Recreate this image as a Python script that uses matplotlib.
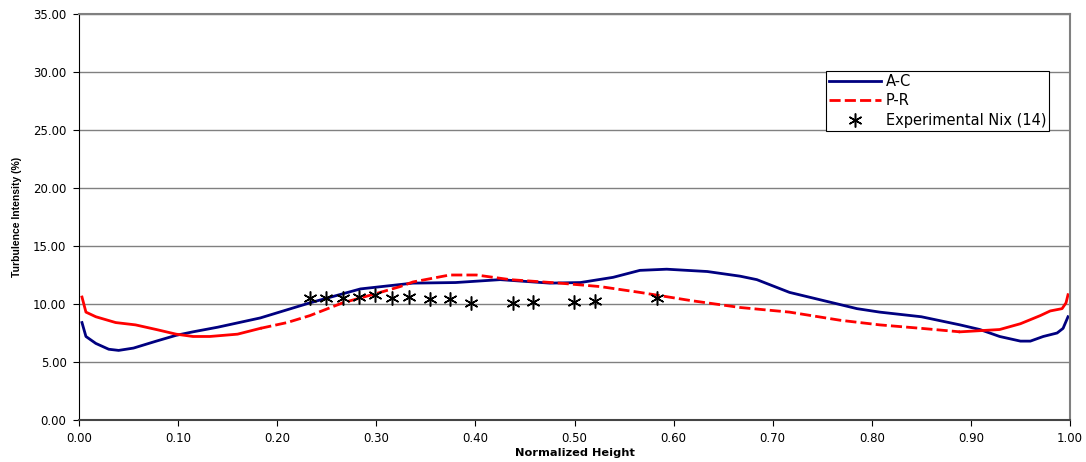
import matplotlib
matplotlib.use("Agg")
import matplotlib.pyplot as plt
from matplotlib.ticker import FormatStrFormatter

plt.rcParams['font.family'] = ['DejaVu Sans']

# A-C model curve
ac_x = [0.003, 0.007, 0.017, 0.030, 0.040, 0.055, 0.078, 0.098, 0.115, 0.14, 0.183, 0.233,
        0.284, 0.337, 0.38, 0.425, 0.475, 0.506, 0.539, 0.566, 0.593, 0.634, 0.667, 0.684,
        0.717, 0.751, 0.785, 0.808, 0.85, 0.889, 0.909, 0.929, 0.950, 0.960, 0.973, 0.987,
        0.993, 0.998]
ac_y = [8.4, 7.2, 6.6, 6.1, 6.0, 6.2, 6.8, 7.3, 7.6, 8.0, 8.8, 10.1,
        11.3, 11.8, 11.85, 12.1, 11.8, 11.85, 12.3, 12.9, 13.0, 12.8, 12.4, 12.1,
        11.0, 10.3, 9.6, 9.3, 8.9, 8.2, 7.8, 7.2, 6.8, 6.8, 7.2, 7.5,
        7.9, 8.9]

# P-R model curve
pr_x = [0.003, 0.007, 0.017, 0.037, 0.057, 0.078, 0.098, 0.115, 0.132, 0.16, 0.183, 0.21,
        0.233, 0.266, 0.30, 0.324, 0.337, 0.374, 0.401, 0.435, 0.485, 0.526, 0.566, 0.617,
        0.667, 0.717, 0.768, 0.808, 0.85, 0.889, 0.929, 0.950, 0.970, 0.980, 0.992, 0.996,
        0.998]
pr_y = [10.6, 9.3, 8.9, 8.4, 8.2, 7.8, 7.4, 7.2, 7.2, 7.4, 7.9, 8.4,
        9.0, 10.1, 10.9, 11.5, 11.9, 12.5, 12.5, 12.1, 11.8, 11.5, 11.0, 10.3,
        9.7, 9.3, 8.6, 8.2, 7.9, 7.6, 7.8, 8.3, 9.0, 9.4, 9.6, 10.1,
        10.8]

# Experimental Nix (14)
exp_x = [0.233, 0.249, 0.266, 0.283, 0.299, 0.316, 0.333, 0.354, 0.374, 0.396,
         0.438, 0.458, 0.4995, 0.521, 0.583]
exp_y = [10.5, 10.5, 10.5, 10.6, 10.8, 10.5, 10.6, 10.4, 10.4, 10.1,
         10.1, 10.2, 10.2, 10.3, 10.5]

x_ticks = [0.0, 0.1, 0.2, 0.3, 0.4, 0.5, 0.6, 0.7, 0.8, 0.9, 1.0]
y_ticks = [0, 5, 10, 15, 20, 25, 30, 35]

fig = plt.figure(figsize=(10.86, 4.62), dpi=100)
ax = fig.add_axes([79/1086, 42/462, (1070-79)/1086, (420-14)/462])

ax.set_xlim(0, 1)
ax.set_ylim(0, 35)
ax.set_xticks(x_ticks)
ax.set_yticks(y_ticks)
ax.xaxis.set_major_formatter(FormatStrFormatter('%.2f'))
ax.yaxis.set_major_formatter(FormatStrFormatter('%.2f'))
ax.tick_params(axis='both', labelsize=8.5, length=4, width=0.8, direction='out', colors='#000000')
ax.tick_params(axis='x', pad=5)
ax.tick_params(axis='y', pad=5)
ax.grid(axis='y', color='#808080', linewidth=1)
ax.set_axisbelow(True)

for side in ['top', 'right']:
    ax.spines[side].set_color('#808080')
    ax.spines[side].set_linewidth(1.5)
ax.spines['left'].set_color('#000000')
ax.spines['bottom'].set_color('#444444')
ax.spines['bottom'].set_linewidth(1.5)

ax.plot(ac_x, ac_y, color='#000080', linewidth=2, label='A-C')

# P-R: dense end segments render solid, middle dashed
i_left = pr_x.index(0.183)
i_right = pr_x.index(0.889)
ax.plot(pr_x[:i_left + 1], pr_y[:i_left + 1], color='#ff0000', linewidth=2)
ax.plot(pr_x[i_left:i_right + 1], pr_y[i_left:i_right + 1], color='#ff0000', linewidth=2,
        linestyle=(0, (4, 1.5)), label='P-R')
ax.plot(pr_x[i_right:], pr_y[i_right:], color='#ff0000', linewidth=2)

ax.plot(exp_x, exp_y, linestyle='none', marker=(6, 2, 0), markersize=10,
        markeredgewidth=1.1, color='#000000', label='Experimental Nix (14)')

ax.set_xlabel('Normalized Height', fontsize=8.2, fontweight='bold', labelpad=2)
ax.set_ylabel('Turbulence Intensity (%)', fontsize=7.5, fontweight='bold', labelpad=8,
              family=['Liberation Sans', 'DejaVu Sans'])

leg = ax.legend(loc='upper left', bbox_to_anchor=((826-79)/991, (420-71)/406),
                fontsize=10.5, frameon=True, fancybox=False, edgecolor='#000000',
                framealpha=1, borderpad=0.2, labelspacing=0.3, handlelength=3.6,
                handletextpad=0.3, borderaxespad=0)
leg.get_frame().set_linewidth(0.8)

fig.savefig('out.png', dpi=100)
